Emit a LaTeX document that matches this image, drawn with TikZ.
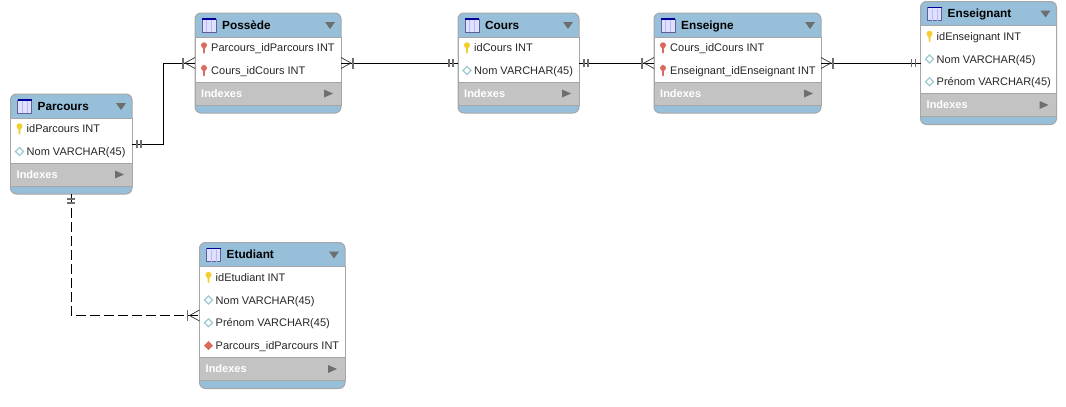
\documentclass[tikz,border=0pt]{standalone}
\usepackage{fontspec}
\setmainfont{Liberation Sans}
\definecolor{headblue}{HTML}{97BFDA}
\definecolor{idxgray}{HTML}{C3C3C3}
\definecolor{edgegray}{HTML}{A6A6A6}
\definecolor{markgray}{HTML}{6E6E6E}
\definecolor{pkyellow}{HTML}{F4CE2C}
\definecolor{fkred}{HTML}{DB6A5E}
\definecolor{attrteal}{HTML}{9CCBD0}
\tikzset{
    % Cornice della tabella
    tableframe/.style={draw=edgegray, fill=headblue, line width=1pt, rounded corners=6pt,
        inner sep=0pt, outer sep=0pt, anchor=north west},
    tablebody/.style={draw=edgegray, fill=white, line width=.8pt, inner sep=0pt, outer sep=0pt, anchor=north west},
    tableidx/.style={fill=idxgray, draw=edgegray, line width=.6pt, inner sep=0pt, outer sep=0pt, anchor=north west},
    % Testi
    titletxt/.style={font=\fontsize{11.8}{13}\selectfont\bfseries, inner sep=0pt, anchor=west, text height=8.5pt, text depth=0pt},
    rowtxt/.style={font=\fontsize{11}{12}\selectfont, inner sep=0pt, anchor=west, text=black!85, text height=8pt, text depth=0pt},
    idxtxt/.style={font=\fontsize{11}{12}\selectfont\bfseries, inner sep=0pt, anchor=west, text=white, text height=8pt, text depth=0pt},
    % Relazioni
    rel/.style={line width=.9pt, black},
    reldash/.style={rel, dash pattern=on 10pt off 4pt},
    pics/crowfoot/.style={code={
        \draw[line width=.7pt, black!80] (0,-5.5) -- (10,0) -- (0,5.5);
        \draw[line width=1.3pt, markgray] (12,-5.5) -- (12,5.5);
    }},
    pics/onebar/.style={code={
        \draw[line width=1.1pt, markgray] (5,-4) -- (5,4) (9,-4) -- (9,4);
    }},
    pics/tableicon/.style={code={
        \draw[fill=blue!12!white, draw=blue!25!gray, line width=.6pt] (0,0) rectangle (14,13);
        \draw[line width=1.1pt, blue!60!black] (0,0) -- (14,0);
        \draw[line width=.5pt, blue!28!white] (4.7,1) -- (4.7,13) (9.3,1) -- (9.3,13);
    }},
    pics/keyicon/.style={code={
        \fill[#1] (0,-2.5) ellipse (3 and 3);
        \fill[#1] (-1.2,-1) -- (1.2,-1) -- (.7,5.5) -- (-.7,5.5) -- cycle;
    }},
    pics/attricon/.style={code={
        \draw[fill=#1, draw=attrteal, line width=1.1pt] (-4,0) -- (0,-4) -- (4,0) -- (0,4) -- cycle;
    }},
    pics/fkattricon/.style={code={
        \fill[fkred] (-4.5,0) -- (0,-4.5) -- (4.5,0) -- (0,4.5) -- cycle;
    }},
}
% tabella: nome, x, y, larghezza, numero di righe, titolo
\newcommand{\erdtable}[6]{
    \pgfmathsetmacro{\totalh}{54+23*#5}
    \pgfmathsetmacro{\bodyh}{23*#5-1}
    \node[tableframe, minimum width=#4pt, minimum height=\totalh pt] (#1) at (#2,#3) {};
    \node[tablebody, minimum width=#4pt, minimum height=\bodyh pt] (#1-body) at (#2,#3+24) {};
    \node[tableidx, minimum width=#4pt, minimum height=23pt] (#1-idx) at (#2,#3+23+23*#5) {};
    \pic at (#2+7,#3+6) {tableicon};
    \node[titletxt] (#1-title) at (#2+27,#3+12) {#6};
    \fill[markgray] (#2+#4-16,#3+9) -- (#2+#4-6,#3+9) -- (#2+#4-11,#3+16) -- cycle;
    \node[idxtxt] (#1-idxtxt) at (#2+6,#3+34+23*#5) {Indexes};
    \fill[markgray] (#2+#4-17,#3+30.5+23*#5) -- (#2+#4-8,#3+34.5+23*#5) -- (#2+#4-17,#3+38.5+23*#5) -- cycle;
}
% riga: tabella, x, y, numero, pic, testo
\newcommand{\erdrow}[6]{
    \pic at (#2+9,#3+12+22.75*#4) {#5};
    \node[rowtxt] (#1-row#4) at (#2+16,#3+12+22.75*#4) {#6};
}
\begin{document}
\begin{tikzpicture}[x=1pt, y=-1pt]
\useasboundingbox (0,0) rectangle (1066,407);

% --- Tabelle ---
\erdtable{parcours}{10.5}{94}{121.5}{2}{Parcours}
\erdrow{parcours}{10.5}{94}{1}{keyicon=pkyellow}{idParcours INT}
\erdrow{parcours}{10.5}{94}{2}{attricon=white}{Nom VARCHAR(45)}

\erdtable{possede}{195}{13}{146}{2}{Possède}
\erdrow{possede}{195}{13}{1}{keyicon=fkred}{Parcours\_idParcours INT}
\erdrow{possede}{195}{13}{2}{keyicon=fkred}{Cours\_idCours INT}

\erdtable{cours}{458}{13}{121}{2}{Cours}
\erdrow{cours}{458}{13}{1}{keyicon=pkyellow}{idCours INT}
\erdrow{cours}{458}{13}{2}{attricon=white}{Nom VARCHAR(45)}

\erdtable{enseigne}{654}{13}{167}{2}{Enseigne}
\erdrow{enseigne}{654}{13}{1}{keyicon=fkred}{Cours\_idCours INT}
\erdrow{enseigne}{654}{13}{2}{keyicon=fkred}{Enseignant\_idEnseignant INT}

\erdtable{enseignant}{920.5}{1.5}{136}{3}{Enseignant}
\erdrow{enseignant}{920.5}{1.5}{1}{keyicon=pkyellow}{idEnseignant INT}
\erdrow{enseignant}{920.5}{1.5}{2}{attricon=white}{Nom VARCHAR(45)}
\erdrow{enseignant}{920.5}{1.5}{3}{attricon=white}{Prénom VARCHAR(45)}

\erdtable{etudiant}{199.5}{242.5}{145.5}{4}{Etudiant}
\erdrow{etudiant}{199.5}{242.5}{1}{keyicon=pkyellow}{idEtudiant INT}
\erdrow{etudiant}{199.5}{242.5}{2}{attricon=white}{Nom VARCHAR(45)}
\erdrow{etudiant}{199.5}{242.5}{3}{attricon=white}{Prénom VARCHAR(45)}
\erdrow{etudiant}{199.5}{242.5}{4}{fkattricon}{Parcours\_idParcours INT}

% --- Relazioni ---
\coordinate (bendparcours) at (163,144);
\draw[rel] (parcours.east) -- (bendparcours) |- (possede.west);
\draw[rel] (possede.east) -- (cours.west);
\draw[rel] (cours.east) -- (enseigne.west);
\draw[rel] (enseigne.east) -- (enseignant.west);
\draw[reldash] (parcours.south) |- (etudiant.west);

\pic at (parcours.east) {onebar};
\pic[rotate=180] at (possede.west) {crowfoot};
\pic at (possede.east) {crowfoot};
\pic[rotate=180] at (cours.west) {onebar};
\pic at (cours.east) {onebar};
\pic[rotate=180] at (enseigne.west) {crowfoot};
\pic at (enseigne.east) {crowfoot};
\pic[rotate=180] at (enseignant.west) {onebar};
\pic[rotate=-90] at (parcours.south) {onebar};
\pic[rotate=180] at (etudiant.west) {crowfoot};

\end{tikzpicture}
\end{document}
